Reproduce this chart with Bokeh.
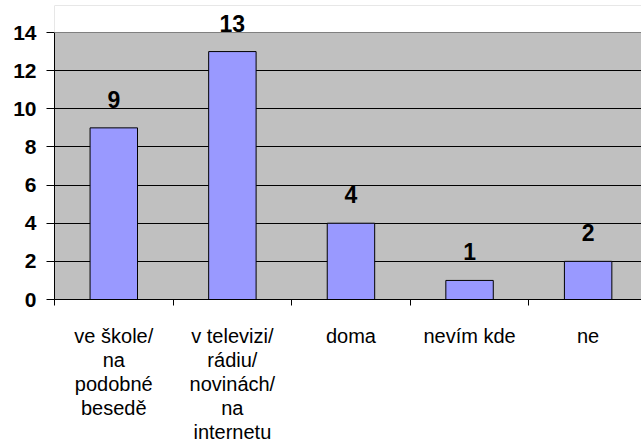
from bokeh.plotting import figure
from bokeh.models import ColumnDataSource, FixedTicker, Range1d, LabelSet, BoxAnnotation, Span
from bokeh.core.properties import value
from bokeh.embed import file_html
from bokeh.resources import INLINE

categories = ["ve škole/\nna\npodobné\nbesedě", "v televizi/\nrádiu/\nnovinách/\nna\ninternetu", "doma", "nevím kde", "ne"]
values = [9, 13, 4, 1, 2]
y_ticks = [0, 2, 4, 6, 8, 10, 12, 14]
y_max = y_ticks[-1]

xs = [i + 0.5 for i in range(len(categories))]
src = ColumnDataSource(dict(x=xs, top=values, lbl=[str(v) for v in values]))

p = figure(width=641, height=446, output_backend="svg", toolbar_location=None,
           x_range=Range1d(0, 4.95), y_range=Range1d(0, 15.416),
           min_border_left=54, min_border_right=0, min_border_top=5, min_border_bottom=147)
p.background_fill_color = "#C0C0C0"
p.border_fill_color = "white"
p.outline_line_color = None

# white space above the plot area (above the top tick)
p.add_layout(BoxAnnotation(bottom=y_max, fill_color="white", fill_alpha=1, line_color=None))
p.add_layout(Span(location=y_max, dimension="width", line_color="#808080", line_width=1))

p.vbar(x="x", top="top", width=0.4, source=src, fill_color="#9999FF", line_color="black", line_width=1)

labels = LabelSet(x="x", y="top", text="lbl", source=src, text_align="center", text_baseline="bottom",
                  y_offset=20, text_font=value("Liberation Sans"), text_font_style="bold",
                  text_font_size="23px", text_color="black")
p.add_layout(labels)

# y axis
p.yaxis.ticker = FixedTicker(ticks=y_ticks)
p.yaxis.bounds = (0, y_max)
p.yaxis.major_label_text_font = "Liberation Sans"
p.yaxis.major_label_text_font_style = "bold"
p.yaxis.major_label_text_font_size = "21px"
p.yaxis.major_label_text_color = "black"
p.yaxis.major_tick_out = 8
p.yaxis.major_tick_in = 0
p.yaxis.minor_tick_out = 0
p.yaxis.minor_tick_in = 0
p.yaxis.axis_line_color = "black"
p.yaxis.major_tick_line_color = "black"
p.yaxis.major_label_standoff = 10

# x axis
p.xaxis.ticker = FixedTicker(ticks=xs, minor_ticks=[0, 1, 2, 3, 4])
p.xaxis.major_label_overrides = {x: c for x, c in zip(xs, categories)}
p.xaxis.major_label_text_font = "Liberation Sans"
p.xaxis.major_label_text_font_size = "20px"
p.xaxis.major_label_text_color = "black"
p.xaxis.major_label_text_line_height = 1.1
p.xaxis.major_tick_out = 0
p.xaxis.major_tick_in = 0
p.xaxis.minor_tick_out = 6
p.xaxis.minor_tick_in = 0
p.xaxis.minor_tick_line_color = "black"
p.xaxis.axis_line_color = "black"
p.xaxis.major_label_standoff = 19

p.xgrid.visible = False
p.ygrid.ticker = FixedTicker(ticks=[2, 4, 6, 8, 10, 12])
p.ygrid.grid_line_color = "black"
p.ygrid.grid_line_width = 1

open("out.html", "w").write(file_html(p, INLINE))
